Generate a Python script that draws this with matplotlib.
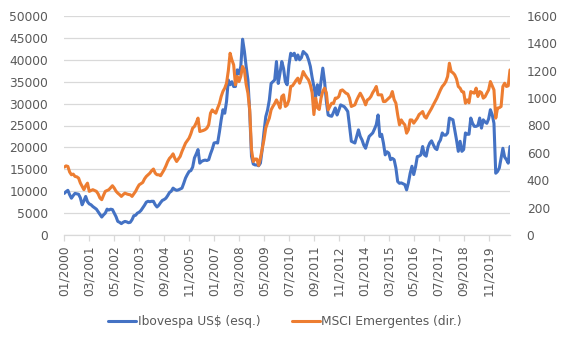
import matplotlib
matplotlib.use("Agg")
import matplotlib.pyplot as plt

# Monthly values, 01/2000 .. 11/2020
ibovespa_usd = [
    # 2000
    9500, 9900, 10200, 9200, 8400, 9000, 9500, 9400, 9300, 8500, 6900, 7800,
    # 2001
    8800, 7600, 7100, 6900, 6500, 6200, 5900, 5300, 4700, 4100, 4600, 5000,
    # 2002
    5900, 5700, 5900, 5800, 5000, 4200, 3100, 2900, 2600, 2900, 3100, 3000,
    # 2003
    2800, 2900, 3500, 4400, 4500, 5000, 5200, 5600, 6200, 6800, 7500, 7700,
    # 2004
    7600, 7700, 7700, 6900, 6400, 6800, 7400, 7900, 8100, 8400, 9000, 9700,
    # 2005
    10000, 10700, 10400, 10200, 10300, 10500, 10700, 11800, 13000, 13800, 14500, 14700,
    # 2006
    15500, 17600, 18500, 19500, 16400, 16800, 17000, 17100, 17000, 17200, 18500, 19600,
    # 2007
    21000, 21100, 21000, 23500, 26300, 28600, 27800, 30500, 35400, 34300, 35000, 33900,
    # 2008
    33900, 37700, 36800, 38500, 44700, 42000, 38500, 35400, 28000, 18000, 16200, 16000,
    # 2009
    16000, 15800, 16400, 19500, 23500, 27000, 28500, 30800, 34600, 35000, 35400, 39600,
    # 2010
    34600, 37000, 39600, 38000, 35000, 34300, 38800, 41500, 41000, 41500, 40000, 41100,
    # 2011
    40000, 40500, 41900, 41500, 41100, 40000, 38500, 36000, 33900, 31500, 34300, 32000,
    # 2012
    35000, 38100, 35000, 30500, 27400, 27200, 27100, 28000, 29000, 27400, 28500, 29700,
    # 2013
    29500, 29300, 28800, 28200, 24800, 21400, 21200, 21000, 22500, 24000, 22500, 21700,
    # 2014
    20500, 19800, 21200, 22500, 22900, 23300, 24200, 25200, 27400, 22500, 23000, 21000,
    # 2015
    18300, 19000, 18700, 17200, 17500, 17200, 15300, 12200, 11800, 11900, 11700, 11500,
    # 2016
    10300, 11900, 14100, 15700, 13800, 15500, 17900, 18000, 18300, 20200, 18300, 18000,
    # 2017
    20000, 21000, 21500, 20600, 19800, 19500, 21000, 21700, 23300, 22800, 22800, 23300,
    # 2018
    26700, 26500, 26300, 24000, 21700, 19100, 21400, 19100, 19500, 23300, 23000, 23000,
    # 2019
    26700, 25500, 24800, 24800, 25000, 26700, 24400, 26300, 25800, 25500, 26500, 28600,
    # 2020
    27500, 25500, 14100, 14500, 15300, 17600, 19800, 17800, 17200, 16400, 20200,
]

msci_em = [
    # 2000
    496, 505, 501, 460, 440, 445, 428, 425, 416, 380, 355, 331,
    # 2001
    360, 379, 319, 325, 331, 325, 319, 300, 270, 258, 290, 319,
    # 2002
    325, 331, 345, 360, 343, 320, 306, 295, 282, 295, 306, 300,
    # 2003
    296, 294, 282, 300, 319, 345, 367, 375, 384, 410, 428, 440,
    # 2004
    452, 470, 482, 452, 440, 440, 433, 455, 477, 505, 537, 560,
    # 2005
    574, 593, 560, 537, 555, 574, 610, 640, 671, 690, 708, 740,
    # 2006
    781, 793, 820, 854, 756, 760, 764, 770, 781, 805, 890, 914,
    # 2007
    900, 890, 927, 960, 1012, 1050, 1073, 1109, 1200, 1328, 1279, 1243,
    # 2008
    1097, 1158, 1121, 1160, 1231, 1206, 1100, 1036, 914, 623, 537, 555,
    # 2009
    555, 508, 562, 630, 696, 781, 820, 854, 914, 939, 960, 987,
    # 2010
    960, 927, 1012, 1024, 939, 950, 987, 1085, 1090, 1109, 1130, 1146,
    # 2011
    1109, 1146, 1194, 1170, 1150, 1133, 1097, 1040, 880, 1000, 930, 917,
    # 2012
    1000, 1050, 1073, 1040, 914, 940, 963, 960, 1000, 1000, 1012, 1055,
    # 2013
    1060, 1048, 1036, 1030, 1000, 939, 945, 951, 985, 1012, 1036, 1012,
    # 2014
    985, 951, 987, 995, 1012, 1040, 1060, 1085, 1024, 1024, 1024, 975,
    # 2015
    975, 987, 1000, 1012, 1048, 990, 963, 878, 805, 841, 820, 805,
    # 2016
    744, 768, 841, 840, 817, 835, 854, 880, 890, 902, 866, 854,
    # 2017
    880, 902, 925, 951, 975, 1000, 1030, 1060, 1085, 1100, 1121, 1158,
    # 2018
    1255, 1194, 1185, 1170, 1140, 1085, 1073, 1048, 1045, 963, 987, 966,
    # 2019
    1048, 1040, 1036, 1073, 1012, 1048, 1040, 1000, 1010, 1036, 1060, 1121,
    # 2020
    1090, 1060, 854, 927, 930, 939, 1085, 1109, 1085, 1090, 1206,
]

tick_labels = ["01/2000", "03/2001", "05/2002", "07/2003", "09/2004", "11/2005",
               "01/2007", "03/2008", "05/2009", "07/2010", "09/2011", "11/2012",
               "01/2014", "03/2015", "05/2016", "07/2017", "09/2018", "11/2019"]
tick_step = 14

left_ticks = [0, 5000, 10000, 15000, 20000, 25000, 30000, 35000, 40000, 45000, 50000]
right_ticks = [0, 200, 400, 600, 800, 1000, 1200, 1400, 1600]

label_ibov = "Ibovespa US$ (esq.)"
label_msci = "MSCI Emergentes (dir.)"

BLUE = "#4472C4"
ORANGE = "#ED7D31"
GRID = "#D9D9D9"
TXT = "#595959"

plt.rcParams["font.family"] = ["DejaVu Sans"]
FS = 8.8

fig = plt.figure(figsize=(5.67, 3.42), dpi=100)
ax = fig.add_axes([64.3 / 567, 1 - 235 / 342, (510 - 64.3) / 567, (235 - 16) / 342])
ax2 = ax.twinx()

x1 = list(range(len(ibovespa_usd)))
x2 = list(range(len(msci_em)))
l1, = ax.plot(x1, ibovespa_usd, color=BLUE, lw=2.2, solid_capstyle="round",
              solid_joinstyle="round", label=label_ibov, zorder=3)
l2, = ax2.plot(x2, msci_em, color=ORANGE, lw=2.2, solid_capstyle="round",
               solid_joinstyle="round", label=label_msci, zorder=3)

n = len(ibovespa_usd)
ax.set_xlim(0, n - 1)
ax.set_ylim(0, 50000)
ax2.set_ylim(0, 1600)

ax.set_yticks(left_ticks)
ax.set_yticklabels([str(v) for v in left_ticks])
ax2.set_yticks(right_ticks)
ax2.set_yticklabels([str(v) for v in right_ticks])

xt = [i * tick_step for i in range(len(tick_labels))]
ax.set_xticks(xt)
ax.set_xticklabels(tick_labels, rotation=90)

ax.grid(axis="y", color=GRID, lw=0.9)
ax.set_axisbelow(True)
for a in (ax, ax2):
    for s in ("top", "left", "right"):
        a.spines[s].set_visible(False)
    a.spines["bottom"].set_visible(False)
ax.spines["bottom"].set_visible(True)
ax.spines["bottom"].set_color(GRID)
ax.spines["bottom"].set_linewidth(0.9)

ax.tick_params(axis="y", length=0, pad=11.5, labelsize=FS, labelcolor=TXT)
ax2.tick_params(axis="y", length=0, pad=12, labelsize=FS, labelcolor=TXT)
ax.tick_params(axis="x", length=4.3, width=0.9, color=GRID, pad=3,
               labelsize=FS, labelcolor=TXT)

fig.legend(handles=[l1, l2], labels=[label_ibov, label_msci], loc="center",
           bbox_to_anchor=(0.503, 1 - 322 / 342), ncol=2, frameon=False,
           fontsize=FS, labelcolor=TXT, handlelength=2.3, handletextpad=0.1,
           columnspacing=2.6)

fig.savefig("out.png", dpi=100)
